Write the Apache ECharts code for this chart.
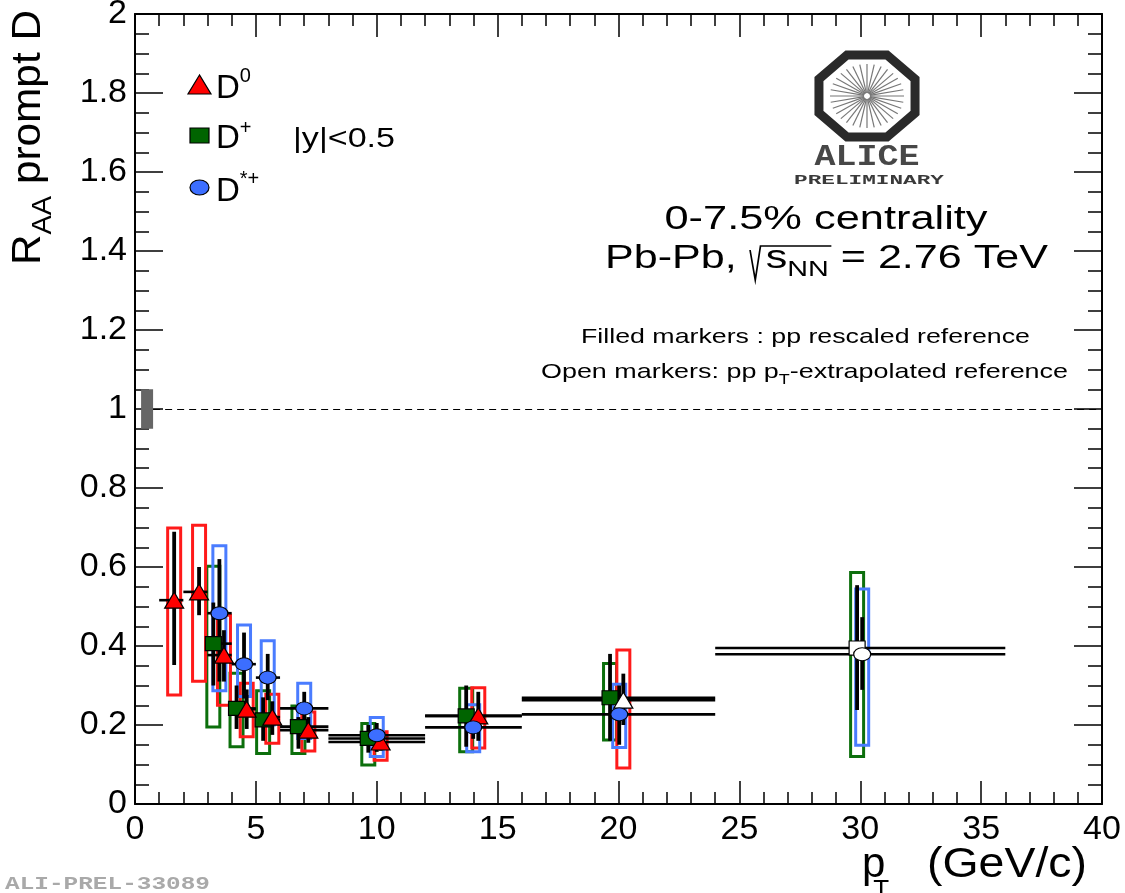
<!DOCTYPE html>
<html>
<head>
<meta charset="utf-8">
<script src="https://cdn.jsdelivr.net/npm/echarts@6/dist/echarts.min.js"></script>
<style>
html, body { margin: 0; padding: 0; background: #fff; }
#chart { width: 1125px; height: 893px; }
</style>
</head>
<body>
<div id="chart"></div>
<script>
// ---- data ----
// D0 (triangles)
var d0Pt     = [1.62, 2.65, 3.68, 4.62, 5.68, 7.17, 10.16, 14.2, 20.2];
var d0BinLo  = [1, 2, 3, 4, 5, 6, 8, 12, 16];
var d0BinHi  = [2, 3, 4, 5, 6, 8, 12, 16, 24];
var d0Raa    = [0.516, 0.537, 0.377, 0.240, 0.220, 0.187, 0.157, 0.223, 0.263];
var d0StatLo = [0.352, 0.478, 0.31, 0.19, 0.175, 0.155, 0.135, 0.16, 0.20];
var d0StatHi = [0.689, 0.600, 0.44, 0.29, 0.26, 0.22, 0.18, 0.284, 0.33];
var d0SysLo  = [0.276, 0.311, 0.250, 0.170, 0.154, 0.134, 0.111, 0.142, 0.091];
var d0SysHi  = [0.699, 0.706, 0.478, 0.306, 0.278, 0.233, 0.183, 0.294, 0.390];
var d0Open   = [0, 0, 0, 0, 0, 0, 0, 0, 1];

// D+ (squares)
var dpPt     = [3.24, 4.2, 5.3, 6.76, 9.65, 13.7, 19.65, 29.87];
var dpBinLo  = [3, 4, 5, 6, 8, 12, 16, 24];
var dpBinHi  = [4, 5, 6, 8, 12, 16, 24, 36];
var dpRaa    = [0.406, 0.242, 0.213, 0.196, 0.166, 0.223, 0.269, 0.395];
var dpStatLo = [0.30, 0.19, 0.16, 0.14, 0.13, 0.145, 0.16, 0.238];
var dpStatHi = [0.51, 0.30, 0.27, 0.22, 0.20, 0.30, 0.38, 0.554];
var dpSysLo  = [0.195, 0.145, 0.128, 0.128, 0.099, 0.132, 0.162, 0.120];
var dpSysHi  = [0.602, 0.331, 0.287, 0.248, 0.204, 0.293, 0.356, 0.586];
var dpOpen   = [0, 0, 0, 0, 0, 0, 0, 1];

// D*+ (circles)
var dsPt     = [3.49, 4.51, 5.49, 7.0, 10.0, 13.99, 20.03, 30.08];
var dsBinLo  = [3, 4, 5, 6, 8, 12, 16, 24];
var dsBinHi  = [4, 5, 6, 8, 12, 16, 24, 36];
var dsRaa    = [0.483, 0.354, 0.320, 0.242, 0.174, 0.194, 0.227, 0.379];
var dsStatLo = [0.31, 0.267, 0.263, 0.187, 0.132, 0.165, 0.15, 0.289];
var dsStatHi = [0.62, 0.434, 0.38, 0.284, 0.205, 0.225, 0.30, 0.473];
var dsSysLo  = [0.287, 0.272, 0.200, 0.166, 0.120, 0.132, 0.143, 0.149];
var dsSysHi  = [0.654, 0.453, 0.413, 0.306, 0.219, 0.251, 0.303, 0.544];
var dsOpen   = [0, 0, 0, 0, 0, 0, 0, 1];

// normalisation uncertainty at R_AA = 1
var normPt = [0.5];
var normLo = [0.95];
var normHi = [1.05];

var SANS = "'Liberation Sans', Arial, Helvetica, sans-serif";
var MONO = "'Liberation Mono', 'DejaVu Sans Mono', monospace";

function build(pt, lo, hi, raa, sLo, sHi, yLo, yHi, open) {
    return pt.map(function (x, i) {
        return [x, raa[i], lo[i], hi[i], sLo[i], sHi[i], yLo[i], yHi[i], open[i]];
    });
}
var d0Data = build(d0Pt, d0BinLo, d0BinHi, d0Raa, d0StatLo, d0StatHi, d0SysLo, d0SysHi, d0Open);
var dpData = build(dpPt, dpBinLo, dpBinHi, dpRaa, dpStatLo, dpStatHi, dpSysLo, dpSysHi, dpOpen);
var dsData = build(dsPt, dsBinLo, dsBinHi, dsRaa, dsStatLo, dsStatHi, dsSysLo, dsSysHi, dsOpen);
var normData = normPt.map(function (x, i) { return [x, 1, normLo[i], normHi[i]]; });

// ---- marker shapes ----
function marker(kind, cx, cy, w, h, fill) {
    var st = {fill: fill, stroke: '#000', lineWidth: 1.2};
    if (kind === 'tri') {
        return {type: 'polygon', shape: {points: [[cx, cy - h / 2], [cx - w / 2, cy + h / 2], [cx + w / 2, cy + h / 2]]}, style: st};
    }
    if (kind === 'sq') {
        return {type: 'rect', shape: {x: cx - w / 2, y: cy - h / 2, width: w, height: h}, style: st};
    }
    return {type: 'circle', x: cx, y: cy, scaleY: h / w, shape: {cx: 0, cy: 0, r: w / 2}, style: st};
}

function boxRender(color) {
    return function (params, api) {
        var c = api.coord([api.value(0), api.value(1)]);
        var top = api.coord([api.value(0), api.value(7)])[1];
        var bot = api.coord([api.value(0), api.value(6)])[1];
        return {type: 'rect', shape: {x: c[0] - 6.5, y: top, width: 13, height: bot - top},
            style: {fill: 'none', stroke: color, lineWidth: 3}};
    };
}
function barRender() {
    return function (params, api) {
        var y = api.value(1);
        var a = api.coord([api.value(2), y]);
        var b = api.coord([api.value(3), y]);
        var s1 = api.coord([api.value(0), api.value(4)]);
        var s2 = api.coord([api.value(0), api.value(5)]);
        return {type: 'group', children: [
            {type: 'line', shape: {x1: a[0], y1: a[1], x2: b[0], y2: b[1]}, style: {stroke: '#000', lineWidth: 2.6}},
            {type: 'line', shape: {x1: s1[0], y1: s1[1], x2: s2[0], y2: s2[1]}, style: {stroke: '#000', lineWidth: 3.8}}
        ]};
    };
}
function markRender(kind, w, h, color) {
    return function (params, api) {
        var c = api.coord([api.value(0), api.value(1)]);
        return marker(kind, c[0], c[1], w, h, api.value(8) ? '#fff' : color);
    };
}

// ---- text helper (sub/superscripts) ----
var mctx = document.createElement('canvas').getContext('2d');
function tw(t, size, fam, weight) {
    mctx.font = (weight || 'normal') + ' ' + size + 'px ' + fam;
    return mctx.measureText(t).width;
}
function run(parts, o) {
    var fam = o.family || SANS, weight = o.weight || 'normal', color = o.color || '#000';
    var cur = 0, kids = [], marks = {};
    parts.forEach(function (p) {
        if (p.mark) { marks[p.mark] = cur; return; }
        if (p.gap) { cur += p.gap; return; }
        kids.push({type: 'text', x: cur, y: p.dy || 0, style: {text: p.t, fontSize: p.size,
            fontFamily: fam, fontWeight: weight, fill: color, align: 'left', verticalAlign: 'middle'}});
        cur += tw(p.t, p.size, fam, weight);
    });
    var s = o.width ? o.width / cur : (o.scale || 1);
    var off = o.anchor === 'center' ? cur / 2 : (o.anchor === 'right' ? cur : 0);
    kids.forEach(function (k) { k.x -= off; });
    if (o.extra) kids = kids.concat(o.extra(marks, off));
    return {type: 'group', x: o.x, y: o.y, rotation: o.rotation || 0, scaleX: s, children: kids};
}

// ALICE logo
function logo(cx, cy) {
    var kids = [], pts = [];
    for (var k = 0; k < 8; k++) {
        var a = (22.5 + 45 * k) * Math.PI / 180;
        pts.push([cx + 52 * Math.cos(a), cy + 44.5 * Math.sin(a)]);
    }
    kids.push({type: 'polygon', shape: {points: pts}, style: {fill: 'none', stroke: '#2a2a2a', lineWidth: 9, lineJoin: 'miter'}});
    for (var r = 0; r < 32; r++) {
        var b = r * Math.PI / 16;
        kids.push({type: 'line', shape: {x1: cx + 3 * Math.cos(b), y1: cy + 3 * Math.sin(b),
            x2: cx + 37 * Math.cos(b), y2: cy + 32 * Math.sin(b)}, style: {stroke: '#777', lineWidth: 1.2}});
    }
    return kids;
}

var graphics = [].concat(
    logo(867, 96),
    [
        run([{t: 'ALICE', size: 30}], {x: 867, y: 157, anchor: 'center', width: 105, family: MONO, weight: 'bold', color: '#474747'}),
        run([{t: 'PRELIMINARY', size: 13}], {x: 869, y: 181, anchor: 'center', width: 150, family: MONO, weight: 'bold', color: '#3a3a3a'}),

        // legend
        marker('tri', 199.5, 84.5, 23, 19, '#ff0000'),
        marker('sq', 199.5, 135.5, 19, 15, '#006400'),
        marker('circle', 199.5, 187.5, 19, 15, '#3c6eff'),
        run([{t: 'D', size: 33}, {t: '0', size: 20, dy: -13}], {x: 216, y: 89}),
        run([{t: 'D', size: 33}, {t: '+', size: 20, dy: -11}], {x: 216, y: 139}),
        run([{t: 'D', size: 33}, {t: '*+', size: 20, dy: -13}], {x: 216, y: 192}),
        run([{t: '|y|<0.5', size: 28}], {x: 293, y: 139, width: 102}),

        // right-hand block
        run([{t: '0-7.5% centrality', size: 33}], {x: 826, y: 220, anchor: 'center', width: 323}),
        run([{t: 'Pb-Pb, ', size: 33}, {mark: 'r0'}, {gap: 13}, {t: 's', size: 33},
             {t: 'NN', size: 22, dy: 11}, {mark: 'r2'}, {t: ' = 2.76 TeV', size: 33}],
            {x: 605, y: 259, width: 443, extra: function (m, off) {
                var x0 = m.r0 - off, x2 = m.r2 - off;
                return [{type: 'polyline', shape: {points: [[x0 + 1, -9], [x0 + 5, 21], [x0 + 9, -13], [x2 + 2, -13]]},
                    style: {stroke: '#000', lineWidth: 1.3, fill: 'none'}}];
            }}),
        run([{t: 'Filled markers : pp rescaled reference', size: 21}], {x: 581, y: 337, width: 449}),
        run([{t: 'Open markers: pp p', size: 21}, {t: 'T', size: 14, dy: 8}, {t: '-extrapolated reference', size: 21}],
            {x: 541, y: 372, width: 527}),

        // axis titles
        run([{t: 'R', size: 41}, {t: 'AA', size: 28, dy: 14}, {t: ' prompt D', size: 41}],
            {x: 29, y: 265, rotation: Math.PI / 2, width: 255}),
        run([{t: 'p', size: 42}, {gap: -12}, {t: 'T', size: 26, dy: 26}], {x: 862, y: 865}),
        run([{t: '(GeV/c)', size: 42}], {x: 927, y: 865, width: 160}),

        run([{t: 'ALI-PREL-33089', size: 18}], {x: 5, y: 884, width: 205, family: MONO, weight: 'bold', color: '#a9a9a9'})
    ]
);

var myChart = echarts.init(document.getElementById('chart'));

function xAx(pos, labels) {
    return {
        type: 'value', position: pos, min: 0, max: 40, interval: 5,
        axisLine: {show: true, onZero: false, lineStyle: {color: '#000', width: 2}},
        axisTick: {show: true, inside: true, length: 23, lineStyle: {color: '#000', width: 1.5}},
        minorTick: {show: true, splitNumber: 5, length: 12, lineStyle: {color: '#000', width: 1.5}},
        axisLabel: {show: labels, color: '#000', fontSize: 34, fontFamily: SANS, margin: 9},
        splitLine: {show: false}
    };
}
function yAx(pos, labels) {
    return {
        type: 'value', position: pos, min: 0, max: 2, interval: 0.2,
        axisLine: {show: true, onZero: false, lineStyle: {color: '#000', width: 2}},
        axisTick: {show: true, inside: true, length: 28, lineStyle: {color: '#000', width: 1.5}},
        minorTick: {show: true, splitNumber: 4, length: 14, lineStyle: {color: '#000', width: 1.5}},
        axisLabel: {show: labels, color: '#000', fontSize: 34, fontFamily: SANS, margin: 8},
        splitLine: {show: false}
    };
}

var option = {
    animation: false,
    backgroundColor: '#fff',
    grid: {left: 135, right: 23, top: 14, bottom: 89, containLabel: false, outerBoundsMode: 'none'},
    xAxis: [xAx('bottom', true), xAx('top', false)],
    yAxis: [yAx('left', true), yAx('right', false)],
    graphic: {elements: graphics},
    series: [
        {
            name: 'norm', type: 'custom', data: normData, z: 2,
            renderItem: function (params, api) {
                var c = api.coord([api.value(0), api.value(1)]);
                var t = api.coord([api.value(0), api.value(3)])[1];
                var b = api.coord([api.value(0), api.value(2)])[1];
                return {type: 'rect', shape: {x: c[0] - 6, y: t, width: 12, height: b - t}, style: {fill: '#666'}};
            },
            markLine: {
                silent: true, symbol: ['none', 'none'], label: {show: false},
                lineStyle: {color: '#000', type: [7, 5], width: 1.2},
                data: [[{coord: [0.75, 1]}, {coord: [40, 1]}]]
            }
        },
        {name: 'D+ syst', type: 'custom', data: dpData, z: 3, renderItem: boxRender('#0c6f0c')},
        {name: 'D0 syst', type: 'custom', data: d0Data, z: 3, renderItem: boxRender('#ff1a1a')},
        {name: 'D*+ syst', type: 'custom', data: dsData, z: 3, renderItem: boxRender('#4a7cff')},
        {name: 'D+ err', type: 'custom', data: dpData, z: 4, renderItem: barRender()},
        {name: 'D0 err', type: 'custom', data: d0Data, z: 4, renderItem: barRender()},
        {name: 'D*+ err', type: 'custom', data: dsData, z: 4, renderItem: barRender()},
        {name: 'D+', type: 'custom', data: dpData, z: 5, renderItem: markRender('sq', 16, 14, '#006400')},
        {name: 'D0', type: 'custom', data: d0Data, z: 5, renderItem: markRender('tri', 19, 16, '#ff0000')},
        {name: 'D*+', type: 'custom', data: dsData, z: 5, renderItem: markRender('circle', 17, 13, '#3c6eff')}
    ]
};

myChart.setOption(option);
</script>
</body>
</html>
